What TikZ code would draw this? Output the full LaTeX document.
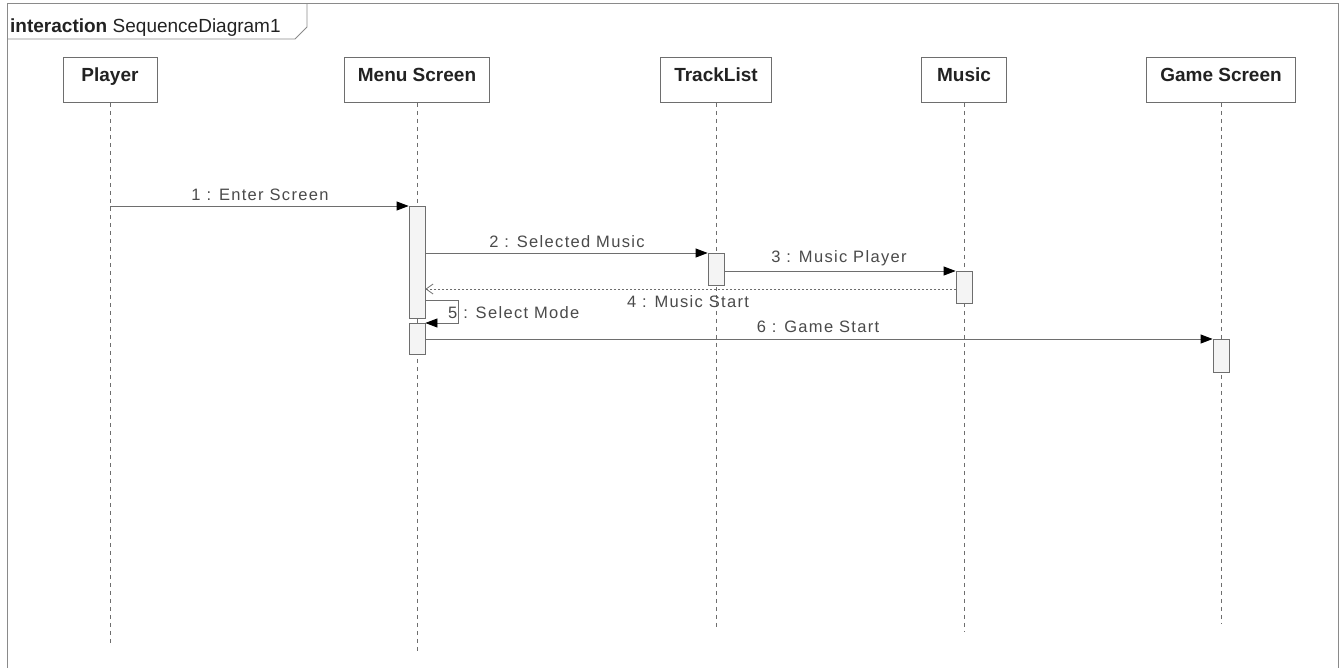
\documentclass[tikz,border=0pt]{standalone}
\usepackage{fontspec}
\setmainfont{Liberation Sans}
\newfontfamily\lblfont[LetterSpace=8]{Liberation Sans}
\usetikzlibrary{arrows.meta}
\definecolor{lineg}{HTML}{6E6E6E}
\definecolor{frameg}{HTML}{8A8A8A}
\definecolor{actfill}{HTML}{F4F4F4}
\definecolor{txtdark}{HTML}{222222}
\definecolor{txtlbl}{HTML}{4A4A4A}
\tikzset{
  head/.style={draw=lineg, line width=0.8pt, fill=white, inner sep=0pt, anchor=north,
    minimum height=45pt, text height=24pt, text depth=21pt,
    font=\fontsize{19}{21}\selectfont\bfseries, text=txtdark},
  life/.style={draw=lineg, line width=0.8pt, dash pattern=on 4pt off 4pt},
  act/.style={draw=lineg, line width=0.8pt, fill=actfill, minimum width=16pt, inner sep=0pt, anchor=north},
  msg/.style={draw=lineg, line width=0.8pt, -{Triangle[length=12pt,width=9pt,color=black]}},
  ret/.style={draw=lineg, line width=0.8pt, dash pattern=on 2pt off 2pt, -{Straight Barb[length=7pt,width=10pt]}},
  lbl/.style={anchor=base, inner sep=0pt, font=\fontsize{16.5}{18}\lblfont, text=txtlbl},
  frametxt/.style={anchor=base west, inner sep=0pt, font=\fontsize{19}{21}\selectfont, text=txtdark}
}
\begin{document}
\begin{tikzpicture}[x=1pt,y=-1pt]
\useasboundingbox (0,0) rectangle (1343,667);
% frame
\draw[frameg, line width=0.8pt] (7,690) -- (7,3) -- (1338,3) -- (1338,690);
\draw[frameg, line width=0.8pt] (7,39) -- (295,39) -- (307,27) -- (307,3);
\node[frametxt] (fkw) at (10,32) {\bfseries interaction};
\node[frametxt] (fname) at ([xshift=5pt]fkw.base east) {SequenceDiagram1};
% lifeline heads
\node[head, minimum width=94pt] (player) at (110,57) {Player};
\node[head, minimum width=145pt] (menu) at (417,57) {Menu Screen};
\node[head, minimum width=111pt] (track) at (716,57) {TrackList};
\node[head, minimum width=85pt] (music) at (964,57) {Music};
\node[head, minimum width=149pt] (game) at (1221,57) {Game Screen};
% lifeline ends
\coordinate (playerE) at (110,643);
\coordinate (menuE) at (417,652);
\coordinate (trackE) at (716,627);
\coordinate (musicE) at (964,631);
\coordinate (gameE) at (1221,624);
\draw[life] (player.south) -- (playerE);
\draw[life] (menu.south) -- (menuE);
\draw[life] (track.south) -- (trackE);
\draw[life] (music.south) -- (musicE);
\draw[life] (game.south) -- (gameE);
% activations
\node[act, minimum height=112pt] (a1) at (417,206) {};
\node[act, minimum height=32pt] (a2) at (716,253) {};
\node[act, minimum height=32pt] (a3) at (964,271) {};
\node[act, minimum height=31pt] (a4) at (417,323) {};
\node[act, minimum height=33pt] (a5) at (1221,339) {};
% messages
\draw[msg] (player.south |- a1.north) -- (a1.north west);
\node[lbl] (l1) at (260,200) {1 : Enter Screen};
\draw[msg] (a1.east |- a2.north) -- (a2.north west);
\node[lbl] (l2) at (567,247) {2 : Selected Music};
\draw[msg] (a2.east |- a3.north) -- (a3.north west);
\node[lbl] (l3) at (839,262) {3 : Music Player};
\coordinate (r4) at (956,289);
\draw[ret] (r4) -- (a1.east |- r4);
\node[lbl] (l4) at (688,307) {4 : Music Start};
\coordinate (s5a) at (458,300);
\coordinate (s5b) at (458,323);
\draw[msg] (a1.east |- s5a) -- (s5a) -- (s5b) -- (a4.north east);
\node[lbl, anchor=base west] (l5) at (448,318) {5 : Select Mode};
\draw[msg] (a4.east |- a5.north) -- (a5.north west);
\node[lbl] (l6) at (818,332) {6 : Game Start};
\end{tikzpicture}
\end{document}
